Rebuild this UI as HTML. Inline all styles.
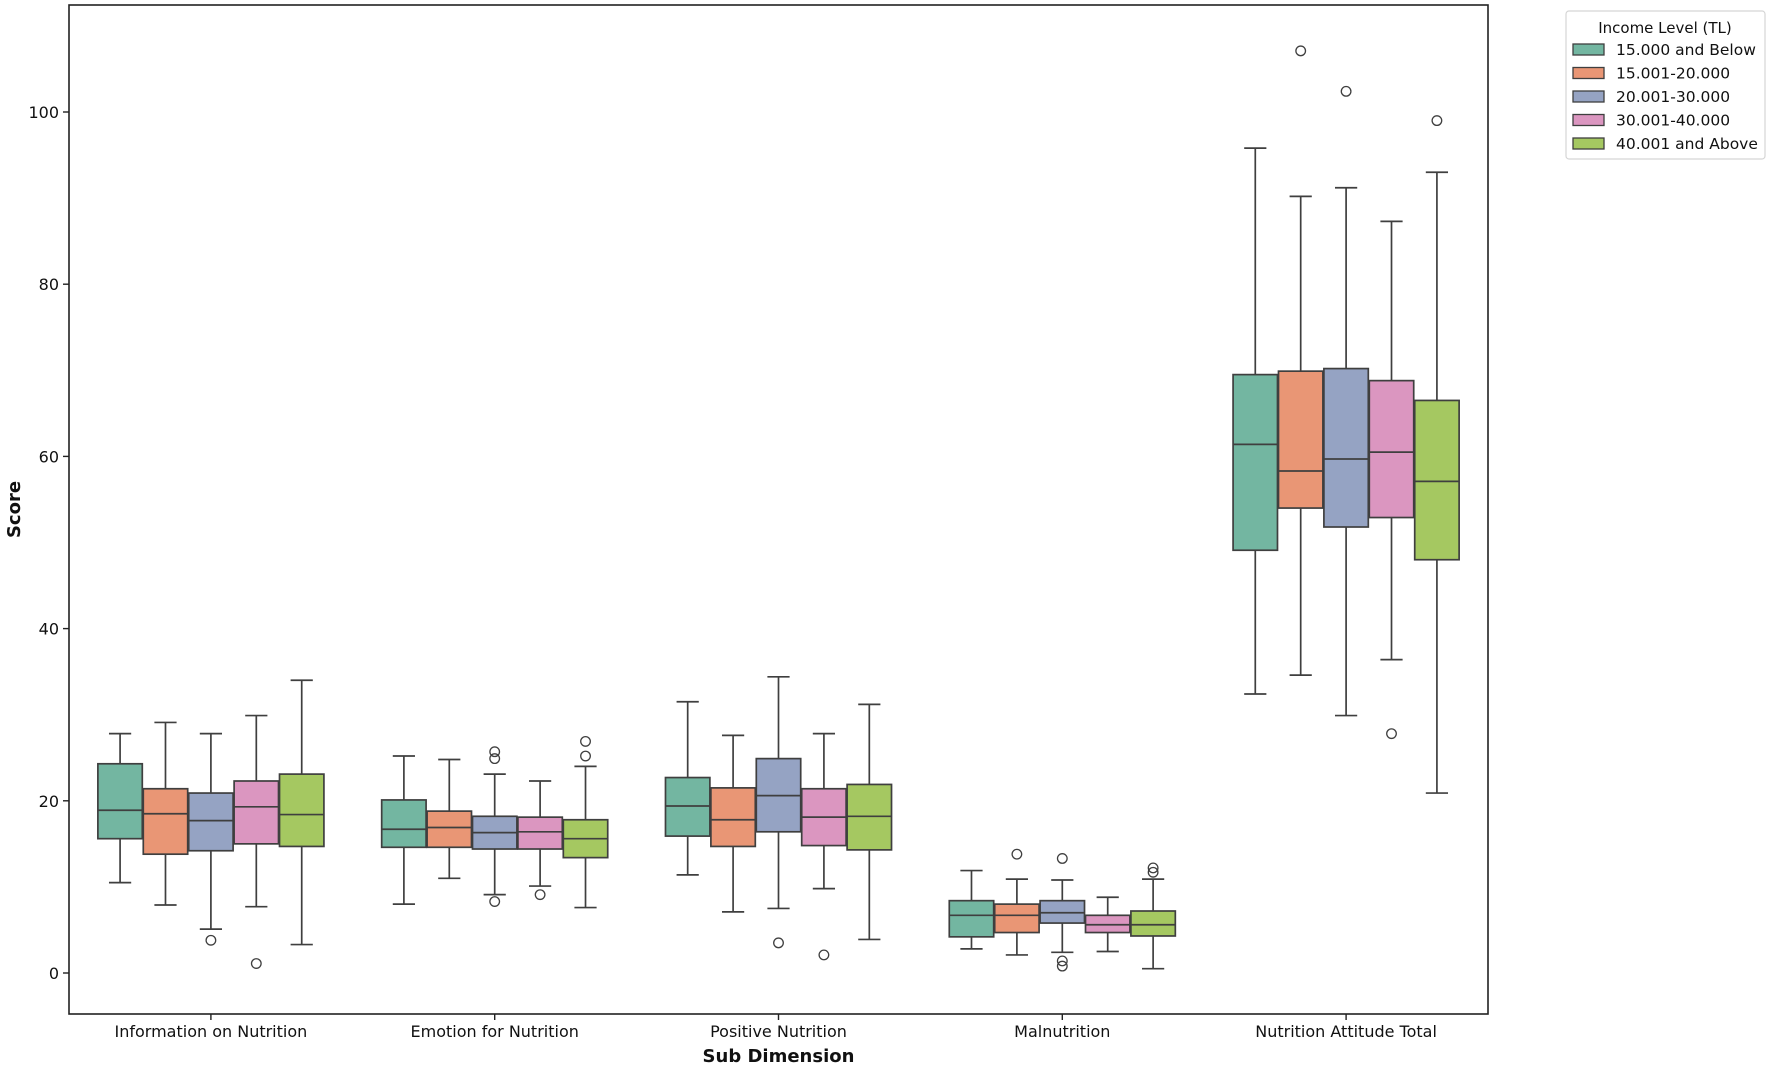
<!DOCTYPE html>
<html><head><meta charset="utf-8"><style>
body{margin:0;background:#fff;}
svg{display:block;font-family:"DejaVu Sans","Liberation Sans",sans-serif;}
</style></head><body>
<svg id="chart" width="1772" height="1067">
</svg>
<script>
const categories=["Information on Nutrition","Emotion for Nutrition","Positive Nutrition","Malnutrition","Nutrition Attitude Total"];
const groups=["15.000 and Below","15.001-20.000","20.001-30.000","30.001-40.000","40.001 and Above"];
const colors=["#73b6a1","#e99675","#95a3c3","#db96c0","#a5c861"];
const yTicks=[0,20,40,60,80,100];
// per category: per group [whiskLow, q1, median, q3, whiskHigh]
const stats=[
 [[10.5,15.6,18.9,24.3,27.8],[7.9,13.8,18.5,21.4,29.1],[5.1,14.2,17.7,20.9,27.8],[7.7,15.0,19.3,22.3,29.9],[3.3,14.7,18.4,23.1,34.0]],
 [[8.0,14.6,16.7,20.1,25.2],[11.0,14.6,16.9,18.8,24.8],[9.1,14.4,16.3,18.2,23.1],[10.1,14.4,16.4,18.1,22.3],[7.6,13.4,15.6,17.8,24.0]],
 [[11.4,15.9,19.4,22.7,31.5],[7.1,14.7,17.8,21.5,27.6],[7.5,16.4,20.6,24.9,34.4],[9.8,14.8,18.1,21.4,27.8],[3.9,14.3,18.2,21.9,31.2]],
 [[2.8,4.2,6.7,8.4,11.9],[2.1,4.7,6.7,8.0,10.9],[2.4,5.8,7.0,8.4,10.8],[2.5,4.7,5.6,6.7,8.8],[0.5,4.3,5.6,7.2,10.9]],
 [[32.4,49.1,61.4,69.5,95.8],[34.6,54.0,58.3,69.9,90.2],[29.9,51.8,59.7,70.2,91.2],[36.4,52.9,60.5,68.8,87.3],[20.9,48.0,57.1,66.5,93.0]]
];
const outliers=[
 [[],[],[3.8],[1.1],[]],
 [[],[],[8.3,25.7,24.9],[9.1],[26.9,25.2]],
 [[],[],[3.5],[2.1],[]],
 [[],[13.8],[13.3,1.4,0.8],[],[12.2,11.7]],
 [[],[107.1],[102.4],[27.8],[99.0]]
];
const NS="http://www.w3.org/2000/svg";
const svg=document.getElementById('chart');
const L=69,R=1488,T=5,B=1014;
const y0=973,y100=112;
function yScale(v){return y0+(y100-y0)*v/100;}
const band=(R-L)/categories.length;
function xCenter(i){return L+band*(i+0.5);}
const slot=band*0.8/groups.length;
function el(tag,attrs,parent){const e=document.createElementNS(NS,tag);for(const k in attrs)e.setAttribute(k,attrs[k]);(parent||svg).appendChild(e);return e;}
const line="#3f3f3f";
const frame=el('rect',{x:L,y:T,width:R-L,height:B-T,fill:'none',stroke:'#222',"stroke-width":1.6});


yTicks.forEach(v=>{const yy=yScale(v);
 const t=el('line',{x1:L-6,x2:L,y1:yy,y2:yy,stroke:'#222',"stroke-width":1.4});
 
 
 const tx=el('text',{x:L-10,y:yy+6,"text-anchor":"end","font-size":16,fill:'#111'});tx.textContent=v;
 
 
});
categories.forEach((c,i)=>{
 const cx=xCenter(i);
 const t=el('line',{x1:cx,x2:cx,y1:B,y2:B+6,stroke:'#222',"stroke-width":1.4});
 
 
 const tx=el('text',{x:cx,y:1037,"text-anchor":"middle","font-size":16,fill:'#111'});tx.textContent=c;
 
 
 groups.forEach((g,j)=>{
  const s=stats[i][j];
  const bx=cx-band*0.4+slot*j, mx=bx+slot/2, w=slot-1;
  const gEl=el('g',{});
  
  
  el('line',{x1:mx,x2:mx,y1:yScale(s[0]),y2:yScale(s[1]),stroke:line,"stroke-width":1.7},gEl);
  el('line',{x1:mx,x2:mx,y1:yScale(s[3]),y2:yScale(s[4]),stroke:line,"stroke-width":1.7},gEl);
  el('line',{x1:mx-w/4,x2:mx+w/4,y1:yScale(s[0]),y2:yScale(s[0]),stroke:line,"stroke-width":1.7},gEl);
  el('line',{x1:mx-w/4,x2:mx+w/4,y1:yScale(s[4]),y2:yScale(s[4]),stroke:line,"stroke-width":1.7},gEl);
  el('rect',{x:bx+0.5,y:yScale(s[3]),width:w,height:yScale(s[1])-yScale(s[3]),fill:colors[j],stroke:line,"stroke-width":1.7},gEl);
  el('line',{x1:bx+0.5,x2:bx+0.5+w,y1:yScale(s[2]),y2:yScale(s[2]),stroke:line,"stroke-width":1.7},gEl);
  outliers[i][j].forEach(o=>{
   const c2=el('circle',{cx:mx,cy:yScale(o),r:4.8,fill:'none',stroke:line,"stroke-width":1.3});
   
   
  });
 });
});
const xt=el('text',{x:(L+R)/2,y:1062,"text-anchor":"middle","font-size":18,"font-weight":"bold",fill:'#111'});xt.textContent="Sub Dimension";


const yt=el('text',{x:0,y:0,"text-anchor":"middle","font-size":18,"font-weight":"bold",fill:'#111',transform:`translate(20,${(T+B)/2}) rotate(-90)`});yt.textContent="Score";


const lg=el('g',{});


el('rect',{x:1566,y:11,width:199,height:148,rx:3,fill:'#fff',stroke:'#d5d5d5',"stroke-width":1.2},lg);
const lt=el('text',{x:1665,y:33,"text-anchor":"middle","font-size":15,fill:'#111'},lg);lt.textContent="Income Level (TL)";
groups.forEach((g,j)=>{
 const yy=50+j*23.5;
 const e=el('g',{},lg);
 
 
 el('rect',{x:1573,y:yy-6,width:31,height:11,fill:colors[j],stroke:line,"stroke-width":1.3},e);
 const t=el('text',{x:1616,y:yy+5,"font-size":15.5,fill:'#111'},e);t.textContent=g;
});
</script>
</body></html>
